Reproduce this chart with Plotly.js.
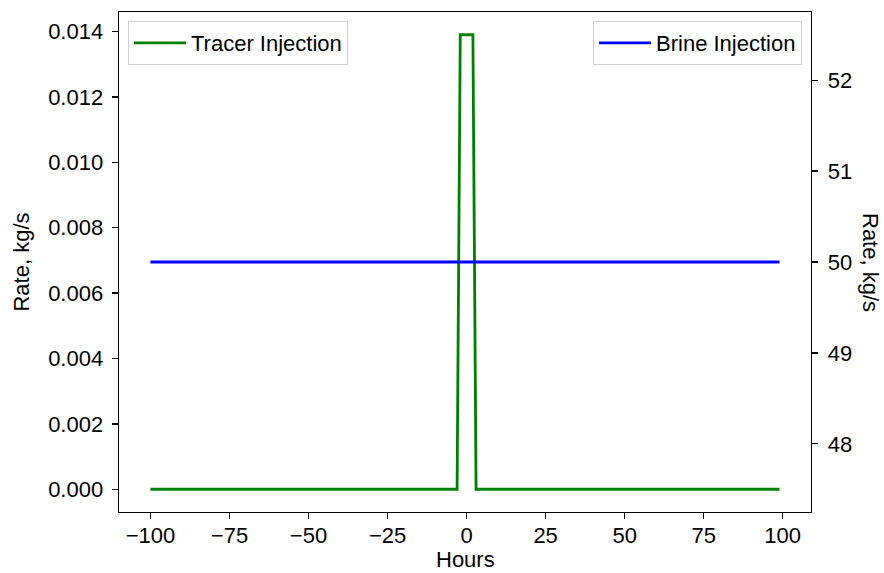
<!DOCTYPE html>
<html>
<head>
<meta charset="utf-8">
<script src="https://cdn.plot.ly/plotly-3.0.1.min.js"></script>
<style>html,body{margin:0;padding:0;background:#fff;}</style>
</head>
<body>
<div id="chart" style="width:884px;height:573px;"></div>
<script>
// Tracer injection (left axis), hours vs kg/s
const tracerHours = [-100, -3, -2, 2, 3, 99];
const tracerRate = [0, 0, 0.0139, 0.0139, 0, 0];
// Brine injection (right axis)
const brineHours = [-100, 99];
const brineRate = [50, 50];
const xTicks = [-100, -75, -50, -25, 0, 25, 50, 75, 100];
const yTicks = [0, 0.002, 0.004, 0.006, 0.008, 0.010, 0.012, 0.014];
const y2Ticks = [48, 49, 50, 51, 52];

const font = {family: 'Liberation Sans, Arial, sans-serif', size: 22, color: '#000'};

const traces = [
  {x: tracerHours, y: tracerRate, type: 'scatter', mode: 'lines', name: 'Tracer Injection',
   line: {color: 'green', width: 2.8}, xaxis: 'x', yaxis: 'y', legend: 'legend'},
  {x: brineHours, y: brineRate, type: 'scatter', mode: 'lines', name: 'Brine Injection',
   line: {color: 'blue', width: 2.8}, xaxis: 'x', yaxis: 'y2', legend: 'legend2'}
];

const layout = {
  width: 884, height: 573,
  margin: {l: 119, r: 73, t: 12, b: 61},
  paper_bgcolor: '#fff', plot_bgcolor: '#fff',
  font: font,
  showlegend: true,
  xaxis: {
    range: [-109.95, 108.95], tickvals: xTicks, ticks: 'outside', ticklen: 6, tickwidth: 1.3,
    tickcolor: '#000', showline: true, linecolor: '#000', linewidth: 1.4, mirror: true,
    showgrid: false, zeroline: false, tickfont: font, ticklabelstandoff: -3
  },
  yaxis: {
    range: [-0.000695, 0.014595], tickvals: yTicks, tickformat: '.3f', ticks: 'outside', ticklen: 6,
    tickwidth: 1.3, tickcolor: '#000', showline: true, linecolor: '#000', linewidth: 1.4,
    showgrid: false, zeroline: false, tickfont: font, ticklabelstandoff: 4,
    title: {text: 'Rate, kg/s', font: font, standoff: 12}
  },
  yaxis2: {
    overlaying: 'y', side: 'right', range: [47.25, 52.75], tickvals: y2Ticks, ticks: 'outside',
    ticklen: 6, tickwidth: 1.3, tickcolor: '#000', showline: true, linecolor: '#000', linewidth: 1.4,
    showgrid: false, zeroline: false, tickfont: font, ticklabelstandoff: 5
  },
  legend: {
    x: 0.013, y: 0.982, xanchor: 'left', yanchor: 'top', bgcolor: 'rgba(255,255,255,0.8)',
    bordercolor: '#d0d0d0', borderwidth: 1, font: font, itemwidth: 52
  },
  legend2: {
    x: 0.987, y: 0.982, xanchor: 'right', yanchor: 'top', bgcolor: 'rgba(255,255,255,0.8)',
    bordercolor: '#d0d0d0', borderwidth: 1, font: font, itemwidth: 52
  },
  annotations: [{
    text: 'Rate, kg/s', textangle: 90, xref: 'paper', yref: 'paper', x: 1, y: 0.5,
    xanchor: 'center', yanchor: 'middle', xshift: 60, showarrow: false, font: font
  }, {
    text: 'Hours', xref: 'paper', yref: 'paper', x: 0.5, y: 0, borderpad: 0,
    xanchor: 'center', yanchor: 'middle', yshift: -47, showarrow: false, font: font
  }]
};

Plotly.newPlot('chart', traces, layout, {displayModeBar: false, staticPlot: true});
</script>
</body>
</html>
